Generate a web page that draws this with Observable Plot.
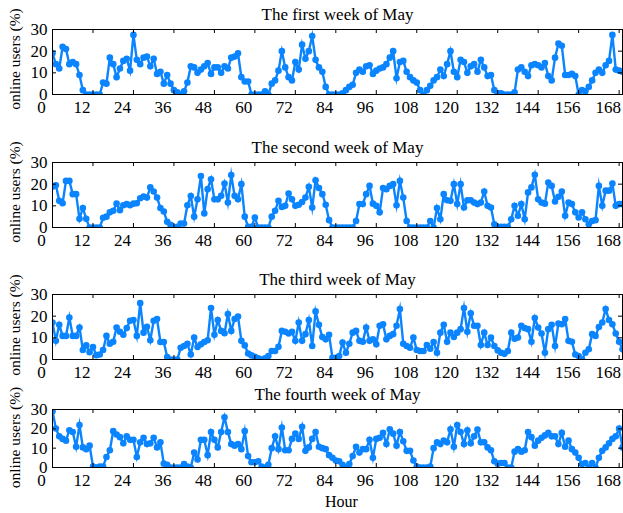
<!DOCTYPE html>
<html>
<head>
<meta charset="utf-8">
<script src="https://cdn.jsdelivr.net/npm/d3@7"></script>
<script src="https://cdn.jsdelivr.net/npm/@observablehq/plot@0.6"></script>
<style>
  body { margin: 0; background: white; }
  #chart { width: 623px; height: 513px; overflow: hidden; }
  #chart svg { display: block; }
</style>
</head>
<body>
<div id="chart"></div>
<script>
const titles = ["The first week of May", "The second week of May", "The third week of May", "The fourth week of May"];
const xTicks = [0, 12, 24, 36, 48, 60, 72, 84, 96, 108, 120, 132, 144, 156, 168];
const yTicks = [0, 10, 20, 30];
const xLabel = "Hour";
const yLabel = "online users (%)";

const week1 = [
  19,14,12,22,21,14,15,14,9,2, 0,0,0,0,0,5.5,5,17,14,8,
  12,15.5,16.5,11,27.5,16,14,17,17.5,13, 16.5,9.5,10.5,5,9,5,2,1,0,1.5,
  5.5,13,12.5,10,11.5,13,14.5,9.5,12.5,12.5, 10,13,12,17,17.5,19,8,6,6,0,
  0,0,0,1.5,0,5,6.5,11,20,12.5, 8,6.5,15,11.5,23,16.5,20,27,16,12.5,
  10.5,3.5,0,0,0,0,0.5,2,3.5,4.5, 10,11.5,10.5,13,13.5,9.5,11,12,12.5,14,
  17,20,7.5,15,15.5,10.5,8,6.5,5.5,2, 0,2,4,6.5,8,11.5,8.5,14,20,10.5,
  8,16,15,10,13,14,10.5,16,12.5,8.5, 9,2,0.5,0.5,0,0,0,1,11.5,12.5,
  10.5,8.5,13.5,14,13.5,12.5,14.5,8.5,6.5,17, 23.5,22.5,9,9,9.5,8.5,0,2,1.5,3.5,
  6.5,10,11.5,10,13.5,15.5,27.5,11.5,11,10.5
];
const week2 = [
  18.8,19.5,12.3,11.2,21.5,21.5,15.4,15.4,4,9, 4,0,0,0,0,4.5,5,7,7.7,11,
  8,10.3,10.8,10.3,11,11.2,13.5,14.3,13.8,18.5, 16.6,13.8,9,7.4,2.6,1.2,0,0.3,1.8,1.8,
  10.3,14.5,5,13,23.8,6.5,17.7,22.3,13,13, 14.6,20.3,11.5,24.2,14.6,13,20,5,0.3,0.3,
  4.6,0,0,0,0,5,7.7,12.3,9.5,10, 15.7,13,10,10.5,11.8,13.8,18.8,9.2,21.8,18.2,
  15.4,
  10.5,3.4,0,0,0,0,0,0,0,3, 10.8,10.8,15.4,19.2,11,10,7,18.2,17.7,19.2,
  20,10.3,21.5,13.8,3,0,0,0,0,0, 0,3,0,9,3.8,15.4,12.6,12.3,20,10.8,
  20,9.2,12.6,12.6,11.5,10.8,11.5,16.6,10,9.2, 1.5,0.3,0.3,0.3,0.3,3.8,10,5.4,10.8,3.8,
  16.2,18.5,24.3,13,11.5,11,20.8,19.2,12,14.2, 16.6,5.4,11.5,10.8,7,4.6,7,3.8,1.5,3,
  3.4,19.2,10,17,17,20.3,10,10.8,10.8
];
const week3 = [
  17.1,8.6,16,10.9,10.9,19.4,10.9,10.9,14.8,4.4, 6.5,3.4,5.8,2,2.3,4.4,10.9,7.3,8.2,14.8,
  12.8,11.4,14.5,17.9,18.2,10.9,26,12.4,15.1,8.9, 17.9,18.7,8.1,8.1,1.1,0,0,0,5.4,6.2,
  7.3,2.3,10.1,5.8,7,8.1,8.9,23.8,11.4,18.2, 13.2,12.1,21,13.2,18.7,19.8,8.6,6.5,2.8,1.9,
  1.2,0.5,0,0.5,1.6,3.9,3.9,5.9,13.2,12.8, 12,12.8,8.6,17.1,8.6,11.7,18.2,6.2,22.2,16,
  10.4,
  9.3,11.4,0.8,0.8,1.6,7.8,3.1,7.3,12.4,13.2, 8.6,8.2,14.8,8.6,9.3,7,15.6,16.3,9.3,10.9,
  11.7,15.6,23.3,7.3,6.2,5.4,10.1,4.4,3.9,3.9, 6.7,5,8.1,3.1,12.4,16,8.2,12.4,10.4,12.4,
  14,23.8,12.8,21.3,15.6,15.6,6.7,12.4,6.7,10.1, 6.2,4.2,3.1,2.6,3.9,12.4,9.6,10.1,15.6,14.5,
  14,8.2,19.1,14.8,12,3.1,14,16,6.2,16.6, 16.3,18.7,8.6,8.2,2.3,1.6,0,3.1,4.7,11.7,
  10.9,15,17.1,23.3,18.2,16.3,12,8.2,4.7
];
const week4 = [
  29.1,20.2,16.1,14.8,13.9,19.3,18.4,10.7,22,10.4, 9.5,11.3,0.5,0,0.5,0.5,5.4,8.9,18.8,17.1,
  15.7,12.5,16.1,14.3,14.3,5.4,13,15.4,12.1,12.5, 15.4,10.4,13,2,1.4,0,0,0,0,1.8,
  0.5,0,7.7,4.1,14.3,14.3,6.4,18.4,14.3,10.4, 18.4,26,18.4,12.1,11.3,12.1,9.5,18.8,5.9,2.7,
  2.7,3.2,0.5,0,1.4,10,16.1,9.5,20.7,8.9, 8.9,14.8,17.5,14.8,21.1,8.6,10.4,14.8,18.4,10.7,
  10,
  9.5,6.4,5,3.6,3.2,1.4,0,1.8,5.9,10.7, 7.7,9.5,9.5,14.3,5,14.8,15.4,17.9,12.1,19.8,
  17.5,11.3,18.4,13.6,8.6,8.6,3.6,0.5,0,0, 0,0.5,10,13,12.1,13.9,13,19.8,10.7,22,
  18.4,12.1,19.3,12.5,16.1,19.6,13,13,10.4,8.9, 3.2,2,2.3,2.3,0,0,8.2,9.5,8.2,8.9,
  18.4,15.7,11.3,13.9,15.4,16.6,17.9,16.1,16.1,12.1, 17.9,10.7,13.9,9.5,7.7,5,1.8,2.3,0,2.3,
  0,5,8.6,10.4,12.5,14.8,16.1,20.2,10.4
];

const weeks = [week1, week2, week3, week4];
const color = "#0a84ff";
const layouts = [
  {marginTop: 29, frameH: 65, marginBottom: 36, labelDy: -3},
  {marginTop: 32, frameH: 65, marginBottom: 36, labelDy: -3},
  {marginTop: 31, frameH: 65, marginBottom: 21, labelDy: -2},
  {marginTop: 29, frameH: 58, marginBottom: 46, labelDy: -1}
];
const W = 623, ML = 52, MR = 1, FW = W - ML - MR;
const chart = document.getElementById("chart");

weeks.forEach((vals, k) => {
  const data = vals.map((v, i) => ({hour: i, value: v}));
  const {marginTop, frameH, marginBottom, labelDy} = layouts[k];
  const last = k === 3;
  const svg = Plot.plot({
    width: W,
    height: marginTop + frameH + marginBottom,
    marginTop, marginBottom, marginLeft: ML, marginRight: MR,
    x: {domain: [0, 169]},
    y: {domain: [0, 30]},
    style: {fontFamily: "Liberation Serif", fontSize: "17px", color: "black", background: "white", overflow: "visible"},
    marks: [
      Plot.line(data, {x: "hour", y: "value", stroke: color, strokeWidth: 2.4, strokeLinejoin: "miter", strokeMiterlimit: 8, clip: true}),
      Plot.dot(data, {x: "hour", y: "value", r: 3.3, fill: color, clip: true}),
      Plot.frame({stroke: "black", strokeWidth: 1}),
      Plot.tickX(xTicks, {x: d => d, insetTop: frameH - 4, stroke: "black"}),
      Plot.tickX(xTicks, {x: d => d, insetBottom: frameH - 4, stroke: "black"}),
      Plot.tickY(yTicks, {y: d => d, insetRight: FW - 4, stroke: "black"}),
      Plot.tickY(yTicks, {y: d => d, insetLeft: FW - 4, stroke: "black"}),
      Plot.axisX(xTicks, {tickSize: 0, tickPadding: 6, dx: -11, label: null, fontSize: 17}),
      Plot.axisY(yTicks, {tickSize: 0, tickPadding: 5, label: null, fontSize: 17}),
      Plot.text([yLabel], {frameAnchor: "left", textAnchor: "middle", lineAnchor: "middle", dx: -37, dy: labelDy, rotate: -90, fontSize: 15.5}),
      Plot.text([titles[k]], {frameAnchor: "top", textAnchor: "middle", dy: -10, lineAnchor: "bottom", fontSize: 17}),
      last ? Plot.text([xLabel], {frameAnchor: "bottom", textAnchor: "middle", dx: 4, dy: 39, lineAnchor: "bottom", fontSize: 16}) : null
    ]
  });
  chart.appendChild(svg);
});
</script>
</body>
</html>
